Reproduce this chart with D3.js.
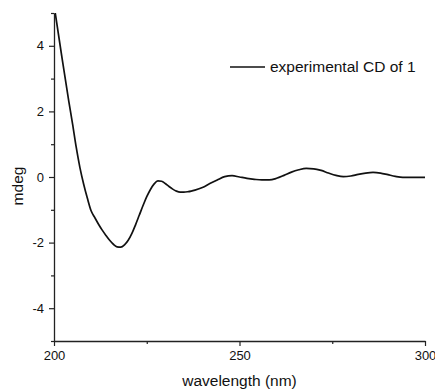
<!DOCTYPE html>
<html>
<head>
<meta charset="utf-8">
<script src="https://cdn.jsdelivr.net/npm/d3@7"></script>
<style>
  html, body { margin: 0; padding: 0; background: #fff; }
  svg { display: block; font-family: "Liberation Sans", Arial, sans-serif; }
</style>
</head>
<body>
<svg id="chart" width="435" height="390"></svg>
<script>
// CD spectrum of compound 1
const wavelengths = [200, 202, 204, 205, 206, 207, 208, 209, 210, 211, 212, 213, 214, 215, 216, 217, 218, 219, 220,
  221, 222, 223, 224, 225, 226, 227, 228, 229, 230, 231, 232, 233, 234, 235, 236, 237, 238, 240, 242, 244, 246,
  248, 250, 252, 254, 256, 258, 260, 262, 264, 266, 268, 270, 272, 274, 276, 278, 280, 282, 284, 286, 288, 290,
  292, 294, 296, 298, 300];
const mdeg = [5.25, 3.75, 2.3, 1.62, 0.9, 0.28, -0.22, -0.65, -1.03, -1.24, -1.44, -1.62, -1.78, -1.93, -2.05, -2.13, -2.14, -2.07, -1.93,
  -1.72, -1.45, -1.16, -0.87, -0.6, -0.38, -0.21, -0.12, -0.13, -0.2, -0.29, -0.37, -0.43, -0.46, -0.46, -0.45, -0.43, -0.4, -0.32, -0.2, -0.09, 0.01,
  0.04, 0.0, -0.04, -0.07, -0.09, -0.09, -0.04, 0.05, 0.15, 0.22, 0.26, 0.25, 0.2, 0.12, 0.05, 0.01, 0.03, 0.08, 0.12, 0.14, 0.12, 0.07,
  0.02, -0.01, -0.01, -0.01, -0.01];
const xTicks = [200, 250, 300];
const xMinorTicks = [225, 275];
const yTicks = [-4, -2, 0, 2, 4];
const yMinorTicks = [-5, -3, -1, 1, 3, 5];
const seriesName = "experimental CD of 1";

const svg = d3.select("#chart");
const plotLeft = 54, plotRight = 425, plotTop = 13, plotBottom = 341;

const x = d3.scaleLinear().domain([200, 300]).range([plotLeft, plotRight]);
const y = d3.scaleLinear().domain([-5, 5]).range([plotBottom, plotTop]);

svg.append("defs").append("clipPath").attr("id", "plotClip")
  .append("rect").attr("x", plotLeft).attr("y", plotTop)
  .attr("width", plotRight - plotLeft).attr("height", plotBottom - plotTop);

const axisColor = "#222";

// minor ticks
svg.append("g").attr("transform", `translate(0,${plotBottom})`)
  .call(d3.axisBottom(x).tickValues(xMinorTicks).tickSize(3).tickFormat(""))
  .call(g => g.select(".domain").remove());
svg.append("g").attr("transform", `translate(${plotLeft},0)`)
  .call(d3.axisLeft(y).tickValues(yMinorTicks).tickSize(3).tickFormat(""))
  .call(g => g.select(".domain").remove());

// major axes
svg.append("g").attr("transform", `translate(0,${plotBottom})`)
  .call(d3.axisBottom(x).tickValues(xTicks).tickSize(5).tickPadding(5).tickSizeOuter(0));
svg.append("g").attr("transform", `translate(${plotLeft},0)`)
  .call(d3.axisLeft(y).tickValues(yTicks).tickSize(5).tickPadding(5).tickSizeOuter(0)
    .tickFormat(d => String(d)));

svg.selectAll(".tick line").attr("stroke", axisColor).attr("stroke-width", 1.2);
svg.selectAll(".domain").attr("stroke", axisColor).attr("stroke-width", 1.3);
svg.selectAll(".tick text").attr("font-size", 13).attr("fill", "#111")
  .attr("font-family", '"Liberation Sans", Arial, sans-serif');

// axis titles
svg.append("text")
  .attr("x", (plotLeft + plotRight) / 2).attr("y", 386)
  .attr("text-anchor", "middle").attr("font-size", 15.5).attr("fill", "#111")
  .text("wavelength (nm)");
svg.append("text")
  .attr("transform", "translate(23,186) rotate(-90)")
  .attr("text-anchor", "middle").attr("font-size", 15.5).attr("fill", "#111")
  .text("mdeg");

// spectrum
const data = wavelengths.map((w, i) => ({ w, v: mdeg[i] }));
const line = d3.line().x(d => x(d.w)).y(d => y(d.v)).curve(d3.curveMonotoneX);
svg.append("path")
  .datum(data)
  .attr("clip-path", "url(#plotClip)")
  .attr("fill", "none")
  .attr("stroke", "#111")
  .attr("stroke-width", 1.7)
  .attr("stroke-linejoin", "round")
  .attr("d", line);

// legend
const legend = svg.append("g");
legend.append("line")
  .attr("x1", 230).attr("x2", 265).attr("y1", 67).attr("y2", 67)
  .attr("stroke", "#111").attr("stroke-width", 1.7);
legend.append("text")
  .attr("x", 270).attr("y", 72)
  .attr("font-size", 15.5).attr("fill", "#111")
  .text(seriesName);
</script>
</body>
</html>
